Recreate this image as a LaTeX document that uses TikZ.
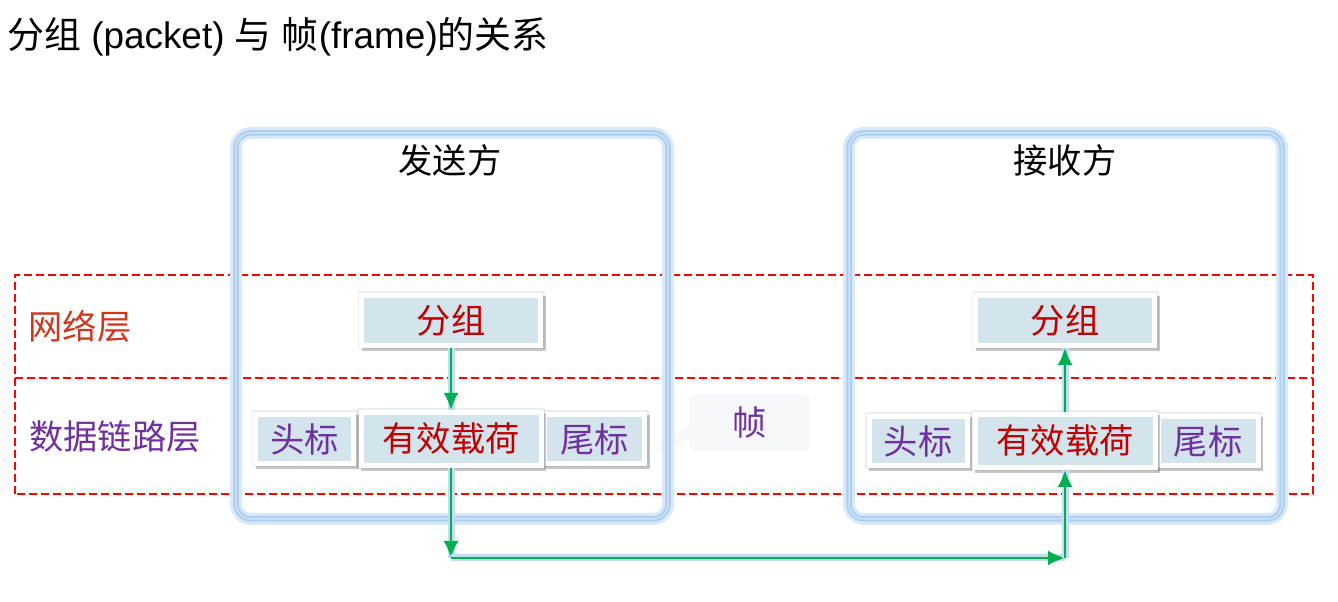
\documentclass[tikz,border=0pt]{standalone}
\usepackage{fontspec}
\setmainfont{Liberation Sans}
\newfontfamily\cjk{Noto Sans CJK SC}
\usepackage{tikz}
\usetikzlibrary{arrows.meta}
\usetikzlibrary{shadows}
\usetikzlibrary{shapes.callouts}
\definecolor{boxfill}{RGB}{211,228,236}
\definecolor{glowout}{RGB}{218,233,250}
\definecolor{glowmid}{RGB}{172,206,240}
\definecolor{glowin}{RGB}{205,228,244}
\definecolor{pktred}{RGB}{192,0,0}
\definecolor{hdrpurple}{RGB}{112,48,160}
\definecolor{netred}{RGB}{205,55,30}
\definecolor{flowgreen}{RGB}{0,176,80}
\definecolor{callfill}{RGB}{246,248,251}

\begin{document}
\begin{tikzpicture}[
  big/.style={font=\cjk\fontsize{19.5}{20}\selectfont},
  side/.style={draw=glowmid,line width=0.11cm,rounded corners=0.3cm,
    preaction={draw=glowout,line width=0.24cm},
    postaction={draw=glowin,line width=0.03cm}},
  layer/.style={draw=red,line width=0.03cm,dash pattern=on 0.16cm off 0.08cm},
  part/.style={big,rectangle,fill=boxfill,draw=white,line width=0.1cm,inner sep=0pt,
    general shadow={fill=black,draw=black,line width=0.16cm,opacity=0.07},
    drop shadow={fill=black,draw=black,line width=0.1cm,opacity=0.22,
      shadow xshift=0.05cm,shadow yshift=-0.06cm}},
  flow/.style={flowgreen,line width=0.05cm,-{Latex[length=0.34cm,width=0.3cm]},
    preaction={draw=glowmid!70,line width=0.14cm,-}}
]
\useasboundingbox (0,0) rectangle (26.76,12.04);

% title
\node[anchor=west,font=\fontsize{21}{24}\selectfont] (title) at (0.02,11.3)
  {{\cjk 分组} (packet) {\cjk 与} {\cjk 帧}(frame){\cjk 的关系}};

% layers
\draw[layer] (0.3,2.16) rectangle (26.26,6.54);
\draw[layer] (0.3,4.48) -- (26.26,4.48);
\node[big,text=netred] (net) at (1.6,5.52) {网络层};
\node[big,text=hdrpurple] (dll) at (2.3,3.3) {数据链路层};

% frame callout
\node[big,text=hdrpurple,rectangle callout,fill=callfill,draw=black!4,rounded corners=0.12cm,
  minimum width=2.4cm,minimum height=1.1cm,callout absolute pointer={(13.06,3.0)}] (frm) at (15.0,3.59) {帧};

% sender / receiver
\draw[side] (4.72,1.66) rectangle (13.36,9.38);
\node[big] (sndr) at (9.0,8.84) {发送方};
\draw[side] (16.98,1.66) rectangle (25.64,9.38);
\node[big] (rcvr) at (21.3,8.84) {接收方};

% sender side
\node[part,text=pktred,minimum width=3.58cm,minimum height=1.0cm] (spkt) at (9.02,5.63) {分组};
\node[part,text=hdrpurple,minimum width=1.96cm,minimum height=0.98cm] (shdr) at (6.09,3.26) {头标};
\node[part,text=hdrpurple,minimum width=2.0cm,minimum height=0.98cm] (strl) at (11.89,3.26) {尾标};
\node[part,text=pktred,minimum width=3.6cm,minimum height=1.06cm] (spay) at (9.02,3.26) {有效载荷};

% receiver side
\node[part,text=pktred,minimum width=3.58cm,minimum height=1.0cm] (rpkt) at (21.3,5.63) {分组};
\node[part,text=hdrpurple,minimum width=1.96cm,minimum height=0.98cm] (rhdr) at (18.36,3.22) {头标};
\node[part,text=hdrpurple,minimum width=2.0cm,minimum height=0.98cm] (rtrl) at (24.16,3.22) {尾标};
\node[part,text=pktred,minimum width=3.6cm,minimum height=1.06cm] (rpay) at (21.3,3.22) {有效载荷};

% flow
\coordinate (sbend) at (9.02,0.88);
\coordinate (rbend) at (21.3,0.88);
\draw[flow] (spkt.south) -- (spay.north);
\draw[flow] (spay.south) -- (sbend);
\draw[flow] (sbend) -- (rbend);
\draw[flow] (rbend) -- (rpay.south);
\draw[flow] (rpay.north) -- (rpkt.south);

\end{tikzpicture}
\end{document}
